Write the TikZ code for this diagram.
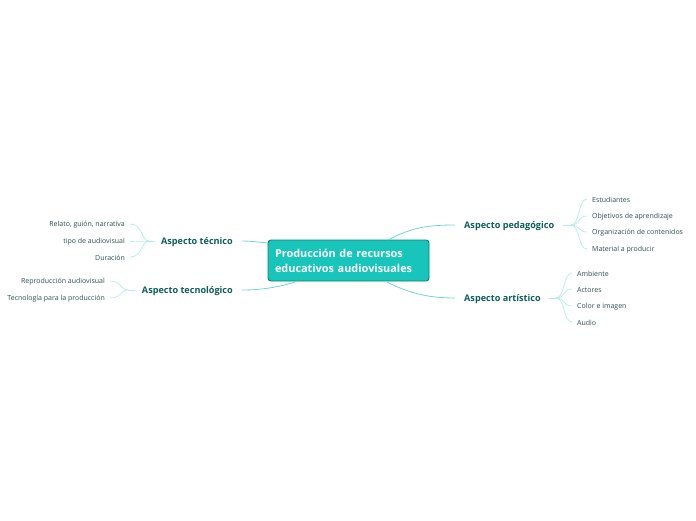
\documentclass[tikz,border=0pt]{standalone}
\usepackage{fontspec}
\setmainfont{Open Sans}
\definecolor{cfill}{HTML}{17C5BB}
\definecolor{cborder}{HTML}{0E7F78}
\definecolor{btext}{HTML}{0B5E59}
\definecolor{ctext}{HTML}{2E4E4E}
\definecolor{mline}{HTML}{6FD6CF}
\definecolor{sline}{HTML}{B5ECE8}
\tikzset{
  central/.style={draw=cborder,fill=cfill,line width=0.9pt,rounded corners=3pt,minimum width=161pt,minimum height=41pt,text=white,font=\fontsize{10.9}{15}\selectfont\bfseries,align=left,text width=155pt,inner sep=0pt},
  branch/.style={text=btext,font=\fontsize{9.1}{10}\selectfont\bfseries,inner sep=0pt},
  leafr/.style={text=ctext,font=\fontsize{7}{8}\selectfont,inner sep=0pt,anchor=west},
  leafl/.style={text=ctext,font=\fontsize{7}{8}\selectfont,inner sep=0pt,anchor=east},
  mconn/.style={draw=mline,line width=0.8pt},
  sconn/.style={draw=sline,line width=0.7pt},
}
\begin{document}
\begin{tikzpicture}[x=1pt,y=-1pt]
\useasboundingbox (0,0) rectangle (696,520);
\node[central] (c) at (348.5,260.5) {\hspace*{4pt}Producción de recursos\\\hspace*{4pt}educativos audiovisuales};
% branches
\node[branch,anchor=west] (p) at (464,226) {Aspecto pedagógico};
\node[branch,anchor=west] (a) at (464,299) {Aspecto artístico};
\node[branch,anchor=east] (t) at (233,242) {Aspecto técnico};
\node[branch,anchor=east] (g) at (233,291) {Aspecto tecnológico};
% connector endpoints
\coordinate (cp) at (388,240);
\coordinate (pin) at (455,225);
\coordinate (ca) at (385,281);
\coordinate (ain) at (455,298);
\coordinate (ct) at (268,243);
\coordinate (tin) at (242,241);
\coordinate (cg) at (298,281);
\coordinate (gin) at (242,290);
\draw[mconn] (cp) .. controls (412,227) and (430,225) .. (pin);
\draw[mconn] (ca) .. controls (410,294) and (430,298) .. (ain);
\draw[mconn] (ct) .. controls (258,242) and (250,241) .. (tin);
\draw[mconn] (cg) .. controls (280,287) and (262,290) .. (gin);
% pedagogico children
\node[leafr] (p1) at (592,200) {Estudiantes};
\node[leafr] (p2) at (592,217) {Objetivos de aprendizaje};
\node[leafr] (p3) at (592,233) {Organización de contenidos};
\node[leafr] (p4) at (592,250) {Material a producir};
\coordinate (pf) at (563,225);
\coordinate (pf2) at (571,225);
\draw[sconn] (pf) -- (pf2);
\foreach \y/\n in {199/p1,216/p2,232/p3,249/p4}{
  \draw[sconn] (pf2) .. controls (580,225) and (578,\y) .. (587,\y);
}
% artistico children
\node[leafr] (a1) at (577,274) {Ambiente};
\node[leafr] (a2) at (577,290) {Actores};
\node[leafr] (a3) at (577,307) {Color e imagen};
\node[leafr] (a4) at (577,323) {Audio};
\coordinate (af) at (548,298);
\coordinate (af2) at (556,298);
\draw[sconn] (af) -- (af2);
\foreach \y/\n in {273/a1,289/a2,306/a3,322/a4}{
  \draw[sconn] (af2) .. controls (565,298) and (563,\y) .. (572,\y);
}
% tecnico children
\node[leafl] (t1) at (125,225) {Relato, guión, narrativa};
\node[leafl] (t2) at (125,242) {tipo de audiovisual};
\node[leafl] (t3) at (125,258) {Duración};
\coordinate (tf) at (155,241);
\coordinate (tf2) at (149,241);
\draw[sconn] (tf) -- (tf2);
\foreach \y/\n in {224/t1,241/t2,257/t3}{
  \draw[sconn] (tf2) .. controls (141,241) and (143,\y) .. (130,\y);
}
% tecnologico children
\node[leafl] (g1) at (105,282) {Reproducción audiovisual};
\node[leafl] (g2) at (105,299) {Tecnología para la producción};
\coordinate (gf) at (135,290);
\coordinate (gf2) at (128,290);
\draw[sconn] (gf) -- (gf2);
\foreach \y/\n in {281/g1,298/g2}{
  \draw[sconn] (gf2) .. controls (120,290) and (122,\y) .. (110,\y);
}
\end{tikzpicture}
\end{document}
